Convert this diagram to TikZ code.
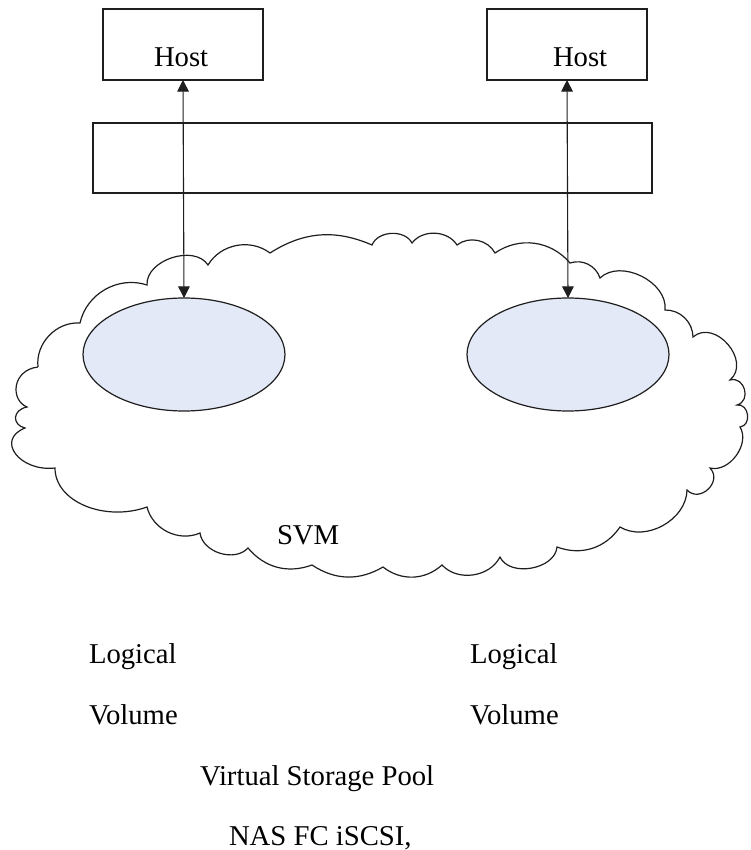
\documentclass[tikz,border=0pt]{standalone}
\usepackage{fontspec}
\setmainfont{Liberation Serif}
\usetikzlibrary{arrows.meta,shapes.geometric}
\definecolor{lvfill}{RGB}{227,233,246}
\definecolor{ink}{RGB}{30,30,30}
\newcommand\lbfont{\fontsize{14.35}{17}\selectfont}
\tikzset{
  box/.style={draw=ink, line width=0.6pt, inner sep=0pt, outer sep=0pt},
  lvol/.style={ellipse, draw=ink, line width=0.6pt, fill=lvfill, minimum width=101pt, minimum height=56.5pt, inner sep=0pt, outer sep=0pt},
  lbl/.style={anchor=base west, inner sep=0pt, outer sep=0pt, font=\lbfont},
  link/.style={draw=ink, line width=0.55pt, {Triangle[length=5.8pt,width=5.8pt]}-{Triangle[length=5.8pt,width=5.8pt]}},
  cloudline/.style={draw=ink, line width=0.6pt}
}
\begin{document}
\begin{tikzpicture}[x=0.5pt,y=-0.5pt]
\useasboundingbox (0,0) rectangle (750,850);
% cloud (SVM)
\draw[cloudline]
 (38,367) to[bend left=50] (80,323)
 to[bend left=48] (147,285)
 to[bend left=75] (208,265)
 to[bend left=48] (270,253)
 to[bend left=28] (372,245)
 to[bend left=65] (412,243)
 to[bend left=55] (457,245)
 to[bend left=50] (495,253)
 to[bend left=42] (570,263)
 to[bend left=45] (600,278)
 to[bend left=70] (665,310)
 to[bend left=45] (693,337)
 to[bend left=90,looseness=1.3] (730,380)
 to[bend left=90,looseness=1.5] (737,405)
 to[bend left=90,looseness=1.4] (740,427)
 to[bend left=68] (710,468)
 to[bend left=90,looseness=1.5] (687,490)
 to[bend left=60] (620,527)
 to[bend left=38] (557,547)
 to[bend left=75] (500,557)
 to[bend left=55] (442,565)
 to[bend left=40] (383,567)
 to[bend left=32] (312,565)
 to[bend left=35] (248,548)
 to[bend left=65] (200,533)
 to[bend left=50] (147,507)
 .. controls (105,522) and (55,502) .. (55,468)
 .. controls (20,472) and (-5,440) .. (25,428)
 .. controls (12,425) and (12,410) .. (27,407)
 .. controls (10,400) and (12,370) .. (38,367);
% boxes
\node[box, minimum width=80pt, minimum height=35.5pt] (host1) at (183,44.5) {};
\node[box, minimum width=80pt, minimum height=35.5pt] (host2) at (567,44.5) {};
\node[box, minimum width=279.5pt, minimum height=35pt] (band) at (372.5,158) {};
% logical volumes
\node[lvol] (lv1) at (184,354.5) {};
\node[lvol] (lv2) at (568,354.5) {};
% connectors
\draw[link] (lv1.north) -- (host1.south);
\draw[link] (lv2.north) -- (host2.south);
% texts
\node[lbl] (h1t) at (154,67) {Host};
\node[lbl] (h2t) at (553,67) {Host};
\node[lbl] (svm) at (277,544) {SVM};
\node[lbl] (lg1) at (89,663) {Logical};
\node[lbl] (vo1) at (89,724) {Volume};
\node[lbl] (lg2) at (470,663) {Logical};
\node[lbl] (vo2) at (470,724) {Volume};
\node[lbl] (vsp) at (200,785) {Virtual Storage Pool};
\node[lbl] (nas) at (229,845) {NAS FC iSCSI,};
\end{tikzpicture}
\end{document}
